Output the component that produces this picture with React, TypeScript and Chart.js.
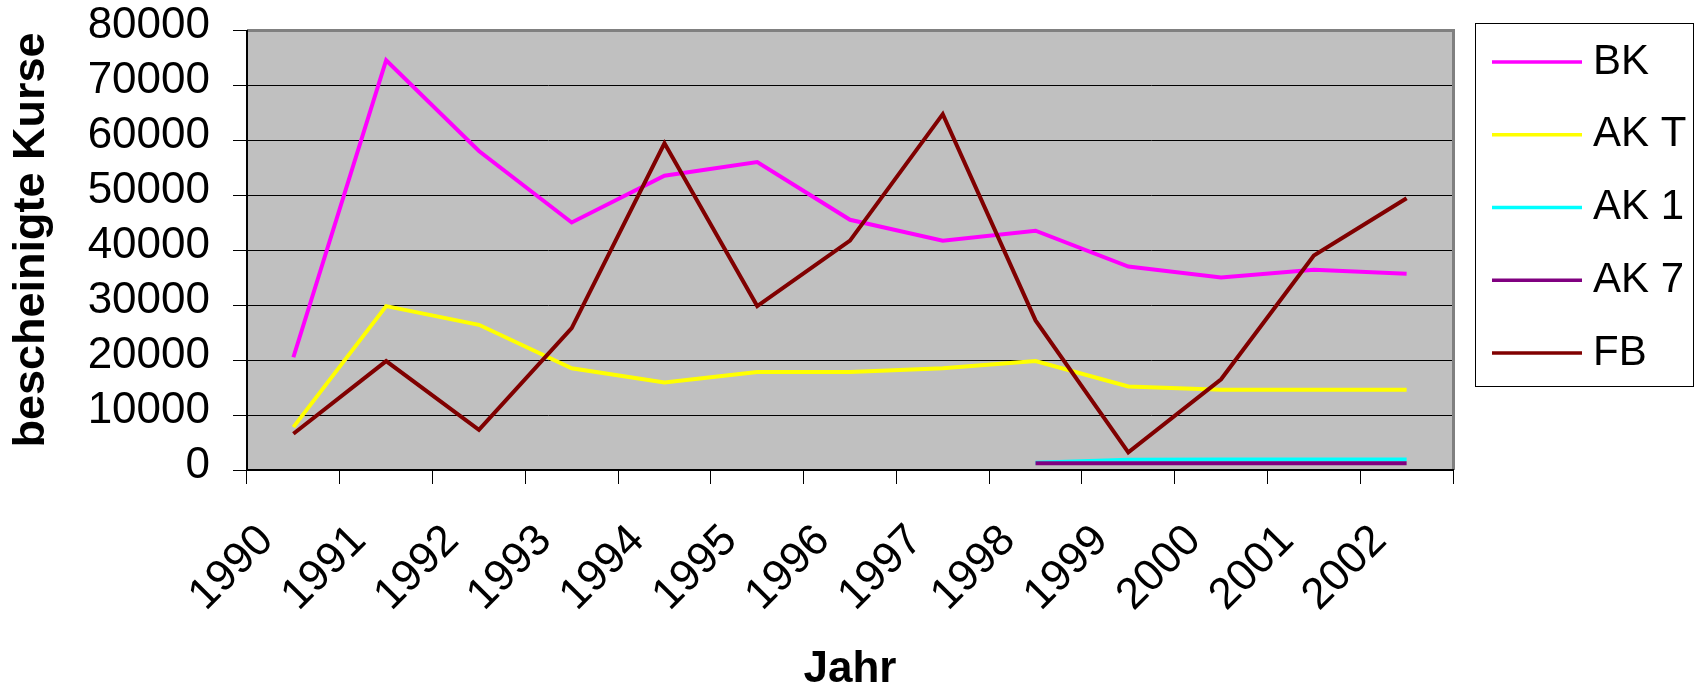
import React, { useEffect, useRef } from 'react';
import { Chart, registerables } from 'chart.js';

Chart.register(...registerables);

// ---- data ----
const years = ['1990', '1991', '1992', '1993', '1994', '1995', '1996', '1997', '1998', '1999', '2000', '2001', '2002'];
const seriesNames = ['BK', 'AK T', 'AK 1', 'AK 7', 'FB'];
const bk = [20500, 74500, 58000, 45000, 53500, 56000, 45500, 41700, 43500, 37000, 35000, 36400, 35700];
const akT = [7800, 29800, 26400, 18500, 15900, 17800, 17800, 18500, 19800, 15200, 14600, 14600, 14600];
const ak1 = [null, null, null, null, null, null, null, null, 1300, 1850, 1900, 1900, 1900];
const ak7 = [null, null, null, null, null, null, null, null, 1250, 1250, 1250, 1250, 1250];
const fb = [6600, 19800, 7300, 25800, 59400, 29800, 41700, 64700, 27200, 3200, 16500, 39000, 49400];
const seriesColors = ['#FF00FF', '#FFFF00', '#00FFFF', '#800080', '#800000'];
const yMin = 0;
const yMax = 80000;
const yStep = 10000;
const xTitle = 'Jahr';
const yTitle = 'bescheinigte Kurse';

const seriesData = [bk, akT, ak1, ak7, fb];

const FONT = '"Liberation Sans", Arial, Helvetica, sans-serif';

const plotFrame = {
  id: 'plotFrame',
  beforeDraw(chart: any) {
    const { ctx, chartArea: a } = chart;
    ctx.save();
    ctx.fillStyle = '#C0C0C0';
    ctx.fillRect(a.left, a.top, a.right - a.left, a.bottom - a.top);
    ctx.restore();
  },
  beforeDatasetsDraw(chart: any) {
    const { ctx, chartArea: a } = chart;
    ctx.save();
    ctx.strokeStyle = '#808080';
    ctx.lineWidth = 3;
    ctx.beginPath();
    ctx.moveTo(a.left, a.top + 0.5);
    ctx.lineTo(a.right + 0.5, a.top + 0.5);
    ctx.lineTo(a.right + 0.5, a.bottom);
    ctx.stroke();
    ctx.strokeStyle = '#000';
    ctx.lineWidth = 2;
    ctx.beginPath();
    ctx.moveTo(a.left, a.top);
    ctx.lineTo(a.left, a.bottom);
    ctx.lineTo(a.right + 1, a.bottom);
    ctx.stroke();
    ctx.restore();
  },
};

const yAxisTitle = {
  id: 'yAxisTitle',
  afterDraw(chart: any) {
    const ctx = chart.ctx;
    const a = chart.chartArea;
    ctx.save();
    ctx.translate(32, (a.top + a.bottom) / 2 - 10);
    ctx.rotate(-Math.PI / 2);
    ctx.font = `bold 45px ${FONT}`;
    ctx.fillStyle = '#000';
    ctx.textAlign = 'center';
    ctx.textBaseline = 'middle';
    ctx.fillText(yTitle, 0, 0);
    ctx.restore();
  },
};

const boxLegend = {
  id: 'boxLegend',
  afterDraw(chart: any) {
    const ctx = chart.ctx;
    ctx.save();
    ctx.fillStyle = '#fff';
    ctx.fillRect(1475, 23, 218, 363);
    ctx.strokeStyle = '#000';
    ctx.lineWidth = 1;
    ctx.strokeRect(1475.5, 23.5, 218, 363);
    ctx.font = `42px ${FONT}`;
    ctx.textBaseline = 'alphabetic';
    ctx.textAlign = 'left';
    chart.data.datasets.forEach((ds: any, i: number) => {
      const y = 62 + i * 72.75;
      ctx.strokeStyle = ds.borderColor;
      ctx.lineWidth = 3.5;
      ctx.beginPath();
      ctx.moveTo(1492, y);
      ctx.lineTo(1582, y);
      ctx.stroke();
      ctx.fillStyle = '#000';
      ctx.fillText(ds.label, 1593, y + 11.5);
    });
    ctx.restore();
  },
};

export default function App() {
  const canvasRef = useRef<HTMLCanvasElement | null>(null);

  useEffect(() => {
    if (!canvasRef.current) return;
    const chart = new Chart(canvasRef.current, {
      type: 'line',
      data: {
        labels: years,
        datasets: seriesNames.map((name, i) => ({
          label: name,
          data: seriesData[i],
          borderColor: seriesColors[i],
          backgroundColor: seriesColors[i],
          borderWidth: 4,
          pointRadius: 0,
          pointHoverRadius: 0,
          tension: 0,
          fill: false,
          spanGaps: false,
          order: seriesNames.length - i,
        })),
      },
      options: {
        responsive: false,
        animation: false,
        devicePixelRatio: 1,
        layout: { padding: { left: 0, top: 30, right: 245, bottom: 0 } },
        plugins: { legend: { display: false }, tooltip: { enabled: false } },
        scales: {
          x: {
            type: 'category',
            offset: true,
            grid: { offset: true, drawOnChartArea: false, drawTicks: true, tickLength: 14, color: '#000', lineWidth: 1 },
            border: { display: false },
            ticks: {
              autoSkip: false,
              minRotation: 45,
              maxRotation: 45,
              padding: 31,
              labelOffset: -27,
              color: '#000',
              font: { family: FONT, size: 44 },
            },
            title: {
              display: true,
              text: xTitle,
              color: '#000',
              font: { family: FONT, size: 44, weight: 'bold', lineHeight: 1 },
              padding: { top: 0, bottom: -3 },
            },
            afterFit: (s: any) => { s.height = 219; s.paddingLeft = 0; s.paddingRight = 0; },
          },
          y: {
            min: yMin,
            max: yMax,
            ticks: {
              stepSize: yStep,
              autoSkip: false,
              padding: 23,
              labelOffset: -4,
              color: '#000',
              font: { family: FONT, size: 44 },
              callback: (v: any) => String(v),
            },
            grid: { color: '#000', lineWidth: 1, tickLength: 14, drawTicks: true },
            border: { display: false },
            title: { display: false },
            afterFit: (s: any) => { s.width = 247; s.paddingTop = 0; s.paddingBottom = 0; },
          },
        },
      } as any,
      plugins: [plotFrame, yAxisTitle, boxLegend],
    });
    return () => chart.destroy();
  }, []);

  return (
    <div style={{ position: 'absolute', left: 0, top: 0, width: 1698, height: 689, background: '#fff' }}>
      <canvas ref={canvasRef} width={1698} height={689} style={{ width: 1698, height: 689, display: 'block' }} />
    </div>
  );
}
